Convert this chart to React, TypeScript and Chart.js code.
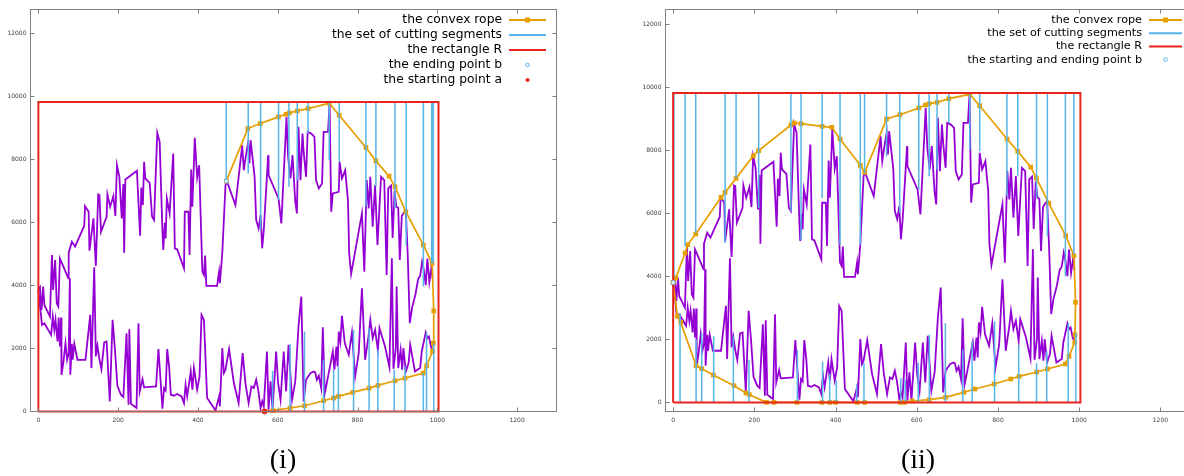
import React, { useEffect, useRef } from "react";
import { Chart, registerables } from "chart.js";
Chart.register(...registerables);

// ---------- data ----------
const X_TICKS = [0, 200, 400, 600, 800, 1000, 1200];
const Y_TICKS = [0, 2000, 4000, 6000, 8000, 10000, 12000];

const RECT_X = [0, 1003, 1003, 0, 0];
const RECT_Y = [0, 0, 9810, 9810, 0];

const upperX = [0,4,8,12,15,29,34,37,42,46,50,54,75,76,84,92,115,117,126,128,138,144,150,153,157,171,173,180,188,193,197,203,209,213,215,218,247,255,258,262,265,268,279,285,290,298,304,311,313,317,319,322,329,338,342,348,365,367,376,379,383,386,392,398,403,411,415,418,421,448,453,455,461,469,473,494,511,515,519,526,529,532,542,546,552,557,561,565,576,577,602,609,622,626,632,637,644,648,652,657,662,665,671,675,684,692,696,703,711,715,726,730,734,738,753,755,761,769,776,779,784,811,817,823,828,832,838,844,850,859,867,873,877,884,888,893,897,902,906,911,916,921,926,931,937,945,952,957,962,966,971,975,980,986,988];
const upperY = [3850,3936,3219,3957,3377,3008,4960,3852,4802,3430,3325,4854,4221,5034,5382,5224,5888,6511,6331,5097,6120,4612,6880,6859,5698,6173,6880,6490,6827,6194,7808,7439,6120,7207,5034,7355,7629,5572,7101,6542,7914,7386,7249,6173,6068,8832,8547,5698,5118,5983,5487,6753,6278,8178,5171,5139,4538,6331,6331,4960,7671,6490,8673,7418,7808,4432,4327,4939,3979,3979,4432,4063,5013,7175,7281,6542,8441,7650,8019,8547,7861,8600,7439,6068,5804,6226,5171,5751,8125,7492,6753,5962,9338,8072,7386,8125,6648,6278,9022,7333,8810,8230,7439,8863,8810,8705,7333,7070,7228,8863,8863,9760,6331,6912,6964,7914,7386,7650,6701,5013,4358,6278,4432,7333,6437,7439,5857,7175,5276,7439,7333,4327,7070,7160,5500,7000,6500,6450,4800,6200,6300,6384,4900,2800,3300,3700,4200,4300,4750,4500,4000,4850,4100,4650,4200];

const lowerX = [0,9,15,32,36,40,43,48,51,54,57,58,63,68,72,76,79,80,84,86,90,98,118,130,133,140,144,148,153,158,165,171,179,186,192,198,207,213,221,226,228,232,246,251,254,261,265,295,301,311,315,319,323,328,332,340,348,359,365,369,373,382,386,390,398,404,409,415,423,444,453,455,461,465,469,478,490,502,512,519,527,534,540,546,551,557,561,565,573,577,582,587,596,601,607,615,621,627,636,644,652,659,665,671,682,690,694,698,703,709,713,718,723,738,742,747,750,753,757,761,768,778,786,794,803,811,819,828,832,838,844,851,855,869,880,886,890,896,898,902,908,912,915,921,928,932,944,957,961,971,975,979,984,988];
const lowerY = [3850,2744,2797,2428,3008,2586,2902,2217,2976,2059,2976,1162,1584,2164,1637,1848,4221,1162,2143,1637,2143,1637,1637,3061,1373,4570,1742,2080,1658,1341,2185,2217,318,2902,1953,814,529,455,2480,212,2607,244,107,2797,634,1024,761,792,1974,86,740,666,1974,1373,529,497,550,476,265,845,476,1267,687,1373,687,1109,3061,2902,423,33,476,160,2006,1214,1320,1974,898,265,1848,898,265,792,740,1003,687,107,318,160,1900,54,951,54,1900,898,371,1900,634,2111,371,951,2691,3641,318,1003,1214,1267,1236,1003,1130,740,2670,582,898,1900,1320,2059,1426,2533,2217,3029,2164,1795,2502,1109,1848,3905,1637,2428,2902,2322,2586,1953,2639,2059,1400,4854,1350,2006,3957,1373,1953,1320,2006,1267,1531,2111,1267,1373,1900,2502,2322,2375,2059,1953];

// panel (i)
const rope1X = [567,588,631,667,715,740,752,788,829,851,894,919,965,973,988,990,991,987,965,921,894,879,846,821,754,729,676,649,629,621,602,556,525,471];
const rope1Y = [0,30,107,180,339,423,476,602,740,824,972,1056,1215,1447,1900,2164,3187,4696,5276,6331,7122,7460,7945,8367,9391,9770,9602,9528,9465,9422,9338,9127,8969,7302];
const cut1UpX = [471,526,557,602,628,649,676,729,754,821,846,894,922,965,986,990];
const cut1UpEnd = [7302,7545,5751,6700,7122,7333,8810,7966,7914,6490,7122,6437,5276,3957,4700,4700];
const cut1LoX = [587,631,667,715,740,752,790,829,851,892,919,965,973,991];
const cut1LoEnd = [1288,2143,2533,1637,1320,1426,2586,2639,1953,1320,1426,1215,2502,2164];
const pointB1 = { x: 471, y: 7302 };
const pointA1 = { x: 567, y: 0 };

// panel (ii)
const rope2X = [0,6.5,29.5,36,55.7,118,128,155,197.6,210.7,290,298.5,315,367,391,411,461,472,525.6,558.4,605,621.5,630.6,650,679,730.6,755,822.4,848.7,880.7,894.6,925,966.8,987,991,989.7,989,975,966,921.7,895.4,852,831.5,790.5,743,716,670.7,630.6,588.7,570.7,560,471.5,453.4,400,386,366.5,305,248.4,230,187.8,179.6,150,99,70.5,56.6,18.8,10.6,0];
const rope2Y = [3800,3944,4737,5001,5339,6502,6660,7104,7823,7982,8795,8859,8838,8753,8722,8351,7517,7295,8986,9123,9335,9430,9472,9514,9631,9770,9409,8351,7960,7464,7115,6322,5286,4652,3172,2147,1904,1460,1217,1058,963,826,741,583,424,319,160,86,44,0,0,0,0,0,0,0,0,0,0,244,297,530,868,1069,1164,2538,2728,3800];
const cut2UpX = [2,29.5,55.7,128,155,210.7,290,315,367,411,461,471.5,525.6,558,605,630.6,650,679,730.6,755,822,848.7,895,921.7,966,987];
const cut2UpEnd = [3950,4948,5371,5054,7115,6163,6058,5160,6480,5001,5001,7273,7800,6005,6745,7168,7379,8859,8013,7961,6534,7168,6481,5265,3997,4700];
const cut2LoX = [17,56.6,70.4,99.8,148.3,186.8,306,368,385.6,402,452,470,560.7,571.5,603.5,631,670.5,713.3,736.4,791.6,851,895,920,973,992];
const cut2LoEnd = [2834,2000,2200,2094,2093,1354,1658,1300,900,700,560,1248,773,720,1248,2147,2517,1671,1935,2570,1830,1248,1618,2517,2200];
const pointB2 = { x: 0, y: 3800 };

const legend1Labels = ["the convex rope", "the set of cutting segments", "the rectangle R", "the ending point b", "the starting point a"];
const legend2Labels = ["the convex rope", "the set of cutting segments", "the rectangle R", "the starting and ending point b"];

// ---------- styles ----------
const PURPLE = "#9400d3";
const ORANGE = "#e69f00";
const CYAN = "#56b4e9";
const RED = "#e8251c";
const FRAME = "#808080";

const pts = (xs: number[], ys: number[]) => xs.map((x, i) => ({ x, y: ys[i] }));
const segs = (xs: number[], from: number[] | number, to: number[]) => {
  const out: any[] = [];
  xs.forEach((x, i) => {
    const f = Array.isArray(from) ? from[i] : from;
    out.push({ x, y: f }, { x, y: to[i] }, { x, y: null });
  });
  return out;
};

function framePlugin() {
  return {
    id: "frame",
    afterDraw(chart: any) {
      const { ctx, chartArea: a, scales } = chart;
      ctx.save();
      ctx.strokeStyle = FRAME;
      ctx.lineWidth = 1;
      const L = Math.round(a.left) + 0.5, R = Math.round(a.right) - 0.5;
      const T = Math.round(a.top) + 0.5, B = Math.round(a.bottom) - 0.5;
      ctx.strokeRect(L, T, R - L, B - T);
      ctx.beginPath();
      X_TICKS.forEach((v) => {
        const px = Math.round(scales.x.getPixelForValue(v)) + 0.5;
        ctx.moveTo(px, B); ctx.lineTo(px, B - 4);
        ctx.moveTo(px, T); ctx.lineTo(px, T + 4);
      });
      Y_TICKS.forEach((v) => {
        const py = Math.round(scales.y.getPixelForValue(v)) + 0.5;
        ctx.moveTo(L, py); ctx.lineTo(L + 4, py);
        ctx.moveTo(R, py); ctx.lineTo(R - 4, py);
      });
      ctx.stroke();
      ctx.restore();
    },
  };
}

type LegendItem = { label: string; kind: "rope" | "line" | "hollow" | "dot"; color: string };
function legendPlugin(items: LegendItem[], cfg: { fontSize: number; top: number; step: number; textRight: number; s0: number; s1: number }) {
  return {
    id: "customLegend",
    afterDraw(chart: any) {
      const ctx = chart.ctx;
      ctx.save();
      ctx.font = `${cfg.fontSize}px "DejaVu Sans"`;
      ctx.textAlign = "right";
      ctx.textBaseline = "middle";
      items.forEach((it, i) => {
        const y = cfg.top + i * cfg.step;
        ctx.fillStyle = "#000";
        ctx.fillText(it.label, cfg.textRight, y);
        const mid = (cfg.s0 + cfg.s1) / 2;
        if (it.kind === "rope" || it.kind === "line") {
          ctx.strokeStyle = it.color;
          ctx.lineWidth = 2;
          ctx.beginPath();
          ctx.moveTo(cfg.s0, y); ctx.lineTo(cfg.s1, y);
          ctx.stroke();
          if (it.kind === "rope") {
            ctx.fillStyle = it.color;
            ctx.fillRect(mid - 2.5, y - 2.5, 5, 5);
          }
        } else if (it.kind === "hollow") {
          ctx.strokeStyle = it.color; ctx.lineWidth = 1;
          ctx.beginPath(); ctx.arc(mid, y, 1.8, 0, Math.PI * 2); ctx.stroke();
        } else {
          ctx.fillStyle = it.color;
          ctx.beginPath(); ctx.arc(mid, y, 2, 0, Math.PI * 2); ctx.fill();
        }
      });
      ctx.restore();
    },
  };
}

function makeConfig(p: any) {
  const datasets: any[] = [
    { label: "polygon-lower", data: pts(lowerX, lowerY), borderColor: PURPLE, borderWidth: 1.8, pointRadius: 0, order: 7, clip: false },
    { label: "polygon-upper", data: pts(upperX, upperY), borderColor: PURPLE, borderWidth: 1.8, pointRadius: 0, order: 7, clip: false },
    { label: "rope", data: pts(p.ropeX, p.ropeY), borderColor: ORANGE, backgroundColor: ORANGE, borderWidth: 1.7, pointStyle: "rect", pointRadius: 3.3, pointBorderWidth: 0, order: 6, clip: false },
    { label: "segments", data: [...segs(p.upX, RECT_Y[2], p.upEnd), ...segs(p.loX, 0, p.loEnd)], borderColor: CYAN, borderWidth: 1.5, pointRadius: 0, spanGaps: false, order: 5, clip: false },
    { label: "rect", data: pts(RECT_X, RECT_Y), borderColor: RED, borderWidth: 2, pointRadius: 0, order: 4, clip: false },
    { label: "b", data: [p.pointB], showLine: false, borderColor: CYAN, backgroundColor: "#ffffff", borderWidth: 1, pointRadius: 2, order: 2, clip: false },
  ];
  if (p.pointA) datasets.push({ label: "a", data: [p.pointA], showLine: false, borderColor: RED, backgroundColor: RED, pointRadius: 2.4, order: 1, clip: false });
  datasets.forEach((d) => { d.fill = false; d.tension = 0; });
  const tickFont = { family: '"DejaVu Sans"', size: 6 };
  return {
    type: "line",
    data: { datasets },
    options: {
      animation: false,
      responsive: false,
      maintainAspectRatio: false,
      events: [],
      layout: { padding: { top: 9, right: p.padRight, left: 0, bottom: 0 } },
      plugins: { legend: { display: false }, tooltip: { enabled: false } },
      scales: {
        x: {
          type: "linear", min: p.xMin, max: p.xMax,
          afterBuildTicks: (s: any) => { s.ticks = X_TICKS.map((v) => ({ value: v })); },
          afterFit: (s: any) => { s.height = 64; },
          grid: { display: false, drawTicks: false },
          border: { display: false },
          ticks: { font: tickFont, color: "#404040", padding: 5, maxRotation: 0, autoSkip: false, callback: (v: any) => String(v) },
        },
        y: {
          type: "linear", min: p.yMin, max: p.yMax,
          afterBuildTicks: (s: any) => { s.ticks = Y_TICKS.map((v) => ({ value: v })); },
          afterFit: (s: any) => { s.width = 30; },
          grid: { display: false, drawTicks: false },
          border: { display: false },
          ticks: { font: tickFont, color: "#404040", padding: 3.5, autoSkip: false, callback: (v: any) => String(v) },
        },
      },
    },
    plugins: [framePlugin(), legendPlugin(p.legendItems, p.legendCfg)],
  };
}

function Panel({ left, params }: { left: number; params: any }) {
  const ref = useRef<HTMLCanvasElement>(null);
  useEffect(() => {
    const chart = new Chart(ref.current as HTMLCanvasElement, makeConfig(params) as any);
    return () => chart.destroy();
  }, []);
  return <canvas ref={ref} width={600} height={476} style={{ position: "absolute", left, top: 0, width: 600, height: 476 }} />;
}

const panel1 = {
  xMin: -21, xMax: 1300, yMin: -19, yMax: 12760, padRight: 43,
  ropeX: rope1X, ropeY: rope1Y, upX: cut1UpX, upEnd: cut1UpEnd, loX: cut1LoX, loEnd: cut1LoEnd,
  pointB: pointB1, pointA: pointA1,
  legendItems: [
    { label: legend1Labels[0], kind: "rope", color: ORANGE },
    { label: legend1Labels[1], kind: "line", color: CYAN },
    { label: legend1Labels[2], kind: "line", color: RED },
    { label: legend1Labels[3], kind: "hollow", color: CYAN },
    { label: legend1Labels[4], kind: "dot", color: RED },
  ],
  legendCfg: { fontSize: 12.3, top: 20, step: 15, textRight: 502, s0: 509, s1: 546 },
};

const panel2 = {
  xMin: -20, xMax: 1300, yMin: -305, yMax: 12475, padRight: 34,
  ropeX: rope2X, ropeY: rope2Y, upX: cut2UpX, upEnd: cut2UpEnd, loX: cut2LoX, loEnd: cut2LoEnd,
  pointB: pointB2, pointA: null,
  legendItems: [
    { label: legend2Labels[0], kind: "rope", color: ORANGE },
    { label: legend2Labels[1], kind: "line", color: CYAN },
    { label: legend2Labels[2], kind: "line", color: RED },
    { label: legend2Labels[3], kind: "hollow", color: CYAN },
  ],
  legendCfg: { fontSize: 11.2, top: 20, step: 13.2, textRight: 507, s0: 514, s1: 547 },
};

const captionStyle: React.CSSProperties = {
  position: "absolute", top: 445, width: 100, textAlign: "center",
  fontFamily: '"Liberation Serif", "Times New Roman", serif', fontSize: 28, lineHeight: "28px", color: "#000",
};

export default function App() {
  return (
    <div style={{ position: "fixed", left: 0, top: 0, width: 1184, height: 476, overflow: "hidden", background: "#fff" }}>
      <Panel left={0} params={panel1} />
      <Panel left={635} params={panel2} />
      <div style={{ ...captionStyle, left: 283 - 50 }}>(i)</div>
      <div style={{ ...captionStyle, left: 918 - 50 }}>(ii)</div>
    </div>
  );
}
